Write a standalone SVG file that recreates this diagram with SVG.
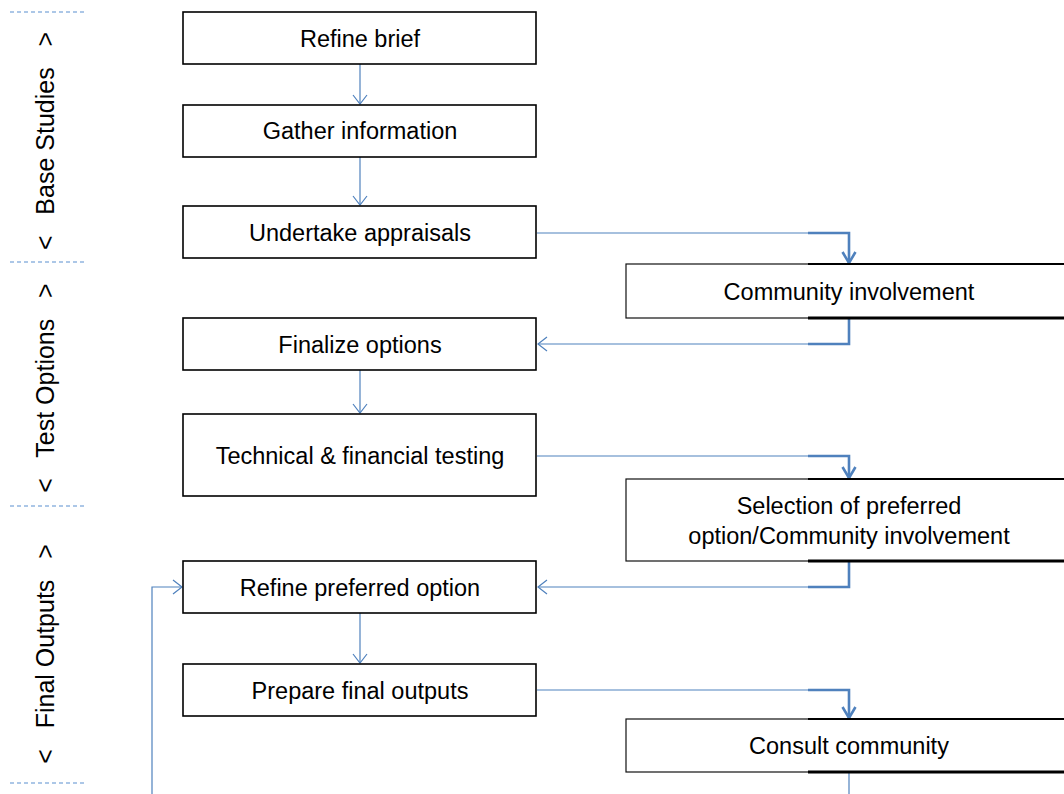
<svg xmlns="http://www.w3.org/2000/svg" width="1064" height="794" viewBox="0 0 1064 794">
  <style>
    .box { fill: #ffffff; stroke: #000000; stroke-width: 1.6; }
    .rbox { fill: #ffffff; stroke: #111111; stroke-width: 1.2; }
    .edge-top { stroke: #000000; stroke-width: 2; }
    .edge-bot { stroke: #000000; stroke-width: 3.2; }
    .lbl { font-family: "Liberation Sans", Arial, sans-serif; font-size: 23.5px; fill: #000000; text-anchor: middle; }
    .phase { font-family: "Liberation Sans", Arial, sans-serif; font-size: 25px; fill: #000000; text-anchor: middle; }
    .sep { stroke: #5b8fd0; stroke-width: 1.2; stroke-dasharray: 4 3; fill: none; }
    .thin { fill: none; stroke: #4f81bd; stroke-width: 1.2; }
    .thick { fill: none; stroke: #4f81bd; stroke-width: 2.6; }
  </style>
  <defs>
    <marker id="vThin" markerUnits="userSpaceOnUse" markerWidth="24" markerHeight="24" viewBox="-12 -12 24 24" refX="0" refY="0" orient="auto" overflow="visible">
      <path d="M-9,-7 L0,0 L-9,7" fill="none" stroke="#4f81bd" stroke-width="1.2"/>
    </marker>
    <marker id="vThick" markerUnits="userSpaceOnUse" markerWidth="24" markerHeight="24" viewBox="-12 -12 24 24" refX="0" refY="0" orient="auto" overflow="visible">
      <path d="M-11,-6.5 L0,0 L-11,6.5" fill="none" stroke="#4f81bd" stroke-width="2.6"/>
    </marker>
  </defs>

  <rect width="1064" height="794" fill="#ffffff"/>

  <!-- phase separators and labels -->
  <g id="phases">
    <line class="sep" x1="10" y1="12" x2="84" y2="12"/>
    <line class="sep" x1="10" y1="262" x2="84" y2="262"/>
    <line class="sep" x1="10" y1="506" x2="84" y2="506"/>
    <line class="sep" x1="10" y1="783" x2="84" y2="783"/>
    <text class="phase" transform="translate(54,141) rotate(-90)" xml:space="preserve">&lt;   Base Studies   &gt;</text>
    <text class="phase" transform="translate(54,388) rotate(-90)" xml:space="preserve">&lt;   Test Options   &gt;</text>
    <text class="phase" transform="translate(54,654) rotate(-90)" xml:space="preserve">&lt;   Final Outputs   &gt;</text>
  </g>

  <!-- connectors -->
  <g id="connectors">
    <path class="thin" d="M360,64 V104" marker-end="url(#vThin)"/>
    <path class="thin" d="M360,157 V205" marker-end="url(#vThin)"/>
    <path class="thin" d="M360,370 V413" marker-end="url(#vThin)"/>
    <path class="thin" d="M360,613 V663" marker-end="url(#vThin)"/>

    <path class="thin" d="M537,233 H808"/>
    <path class="thick" d="M808,233 H849 V263" marker-end="url(#vThick)"/>
    <path class="thick" d="M849,318 V344 H808"/>
    <path class="thin" d="M808,344 H538" marker-end="url(#vThin)"/>

    <path class="thin" d="M537,456 H808"/>
    <path class="thick" d="M808,456 H849 V478" marker-end="url(#vThick)"/>
    <path class="thick" d="M849,561 V587 H808"/>
    <path class="thin" d="M808,587 H538" marker-end="url(#vThin)"/>

    <path class="thin" d="M537,690 H808"/>
    <path class="thick" d="M808,690 H849 V718" marker-end="url(#vThick)"/>
    <path class="thin" d="M849,772 V794" stroke-width="2"/>

    <path class="thin" d="M152,794 V587 H182" marker-end="url(#vThin)"/>
  </g>

  <!-- process steps -->
  <g id="refine-brief">
    <rect class="box" x="183" y="12" width="353" height="52"/>
    <text class="lbl" x="360" y="47">Refine brief</text>
  </g>
  <g id="gather-information">
    <rect class="box" x="183" y="105" width="353" height="52"/>
    <text class="lbl" x="360" y="139">Gather information</text>
  </g>
  <g id="undertake-appraisals">
    <rect class="box" x="183" y="206" width="353" height="52"/>
    <text class="lbl" x="360" y="241">Undertake appraisals</text>
  </g>
  <g id="community-involvement">
    <rect class="rbox" x="626" y="264" width="460" height="54"/>
    <line class="edge-top" x1="808" y1="264" x2="1064" y2="264"/>
    <line class="edge-bot" x1="808" y1="318" x2="1064" y2="318"/>
    <text class="lbl" x="849" y="300">Community involvement</text>
  </g>
  <g id="finalize-options">
    <rect class="box" x="183" y="318" width="353" height="52"/>
    <text class="lbl" x="360" y="353">Finalize options</text>
  </g>
  <g id="technical-financial-testing">
    <rect class="box" x="183" y="414" width="353" height="82"/>
    <text class="lbl" x="360" y="464">Technical &amp; financial testing</text>
  </g>
  <g id="selection-preferred-option">
    <rect class="rbox" x="626" y="479" width="460" height="82"/>
    <line class="edge-top" x1="808" y1="479" x2="1064" y2="479"/>
    <line class="edge-bot" x1="808" y1="561" x2="1064" y2="561"/>
    <text class="lbl" x="849" y="514">Selection of preferred</text>
    <text class="lbl" x="849" y="544">option/Community involvement</text>
  </g>
  <g id="refine-preferred-option">
    <rect class="box" x="183" y="561" width="353" height="52"/>
    <text class="lbl" x="360" y="596">Refine preferred option</text>
  </g>
  <g id="prepare-final-outputs">
    <rect class="box" x="183" y="664" width="353" height="52"/>
    <text class="lbl" x="360" y="699">Prepare final outputs</text>
  </g>
  <g id="consult-community">
    <rect class="rbox" x="626" y="719" width="460" height="53"/>
    <line class="edge-top" x1="808" y1="719" x2="1064" y2="719"/>
    <line class="edge-bot" x1="808" y1="772" x2="1064" y2="772"/>
    <text class="lbl" x="849" y="754">Consult community</text>
  </g>
</svg>
